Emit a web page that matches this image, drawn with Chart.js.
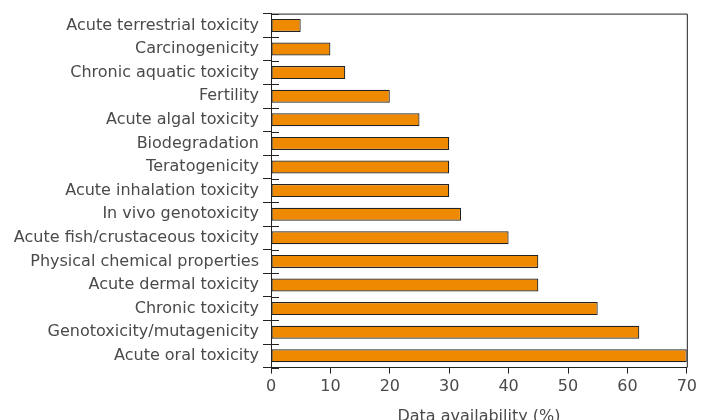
<!DOCTYPE html>
<html>
<head>
<meta charset="utf-8">
<script src="https://cdn.jsdelivr.net/npm/chart.js@4"></script>
<style>
html,body{margin:0;padding:0;background:#fff;overflow:hidden;}
#wrap{width:701px;height:430px;position:relative;}
</style>
</head>
<body>
<div id="wrap"><canvas id="c"></canvas></div>
<script>
const categories = [
  "Acute terrestrial toxicity",
  "Carcinogenicity",
  "Chronic aquatic toxicity",
  "Fertility",
  "Acute algal toxicity",
  "Biodegradation",
  "Teratogenicity",
  "Acute inhalation toxicity",
  "In vivo genotoxicity",
  "Acute fish/crustaceous toxicity",
  "Physical chemical properties",
  "Acute dermal toxicity",
  "Chronic toxicity",
  "Genotoxicity/mutagenicity",
  "Acute oral toxicity"
];
const availability = [5, 10, 12.5, 20, 25, 30, 30, 30, 32, 40, 45, 45, 55, 62, 70];
const xTicks = [0, 10, 20, 30, 40, 50, 60, 70];
const axisTitle = "Data availability (%)";

const FONT = "'DejaVu Sans', sans-serif";
const TEXT = "#4a4a4a";
const LINE = "#222";

const framePlugin = {
  id: 'frame',
  afterDatasetsDraw(chart) {
    const {ctx, chartArea: a, scales: {y}} = chart;
    ctx.save();
    ctx.strokeStyle = LINE;
    ctx.lineWidth = 1;
    ctx.beginPath();
    ctx.moveTo(a.left, a.top + 0.5);
    ctx.lineTo(a.right + 0.5, a.top + 0.5);
    ctx.lineTo(a.right + 0.5, a.bottom);
    ctx.stroke();
    const step = y.getPixelForValue(1) - y.getPixelForValue(0);
    ctx.beginPath();
    for (let i = 0; i <= categories.length; i++) {
      const py = Math.round(y.getPixelForValue(i) - step / 2) + 0.5;
      ctx.moveTo(a.left, py);
      ctx.lineTo(a.left + 8, py);
    }
    ctx.stroke();
    ctx.restore();
  }
};

new Chart(document.getElementById('c'), {
  type: 'bar',
  data: {
    labels: categories,
    datasets: [{
      data: availability,
      backgroundColor: '#EF8A00',
      borderColor: LINE,
      borderWidth: 1.2,
      borderSkipped: false,
      categoryPercentage: 1,
      barPercentage: 0.55
    }]
  },
  options: {
    indexAxis: 'y',
    responsive: true,
    maintainAspectRatio: false,
    animation: false,
    layout: {padding: {top: 12, right: 14, left: 0, bottom: 4}},
    plugins: {legend: {display: false}, tooltip: {enabled: false}},
    scales: {
      y: {
        offset: true,
        afterFit(s) { s.width = 271; },
        grid: {offset: true, drawOnChartArea: false, tickLength: 8, color: LINE},
        border: {color: LINE, width: 1},
        ticks: {color: TEXT, font: {family: FONT, size: 16}, padding: 4}
      },
      x: {
        min: 0, max: 70,
        afterBuildTicks(s) { s.ticks = xTicks.map(v => ({value: v})); },
        grid: {drawOnChartArea: false, tickLength: 6, color: LINE},
        border: {color: LINE, width: 1},
        ticks: {color: TEXT, font: {family: FONT, size: 16}, padding: 4, maxRotation: 0},
        title: {display: true, text: axisTitle, color: TEXT, font: {family: FONT, size: 16}, padding: {top: 6, bottom: 0}}
      }
    }
  },
  plugins: [framePlugin]
});
</script>
</body>
</html>
